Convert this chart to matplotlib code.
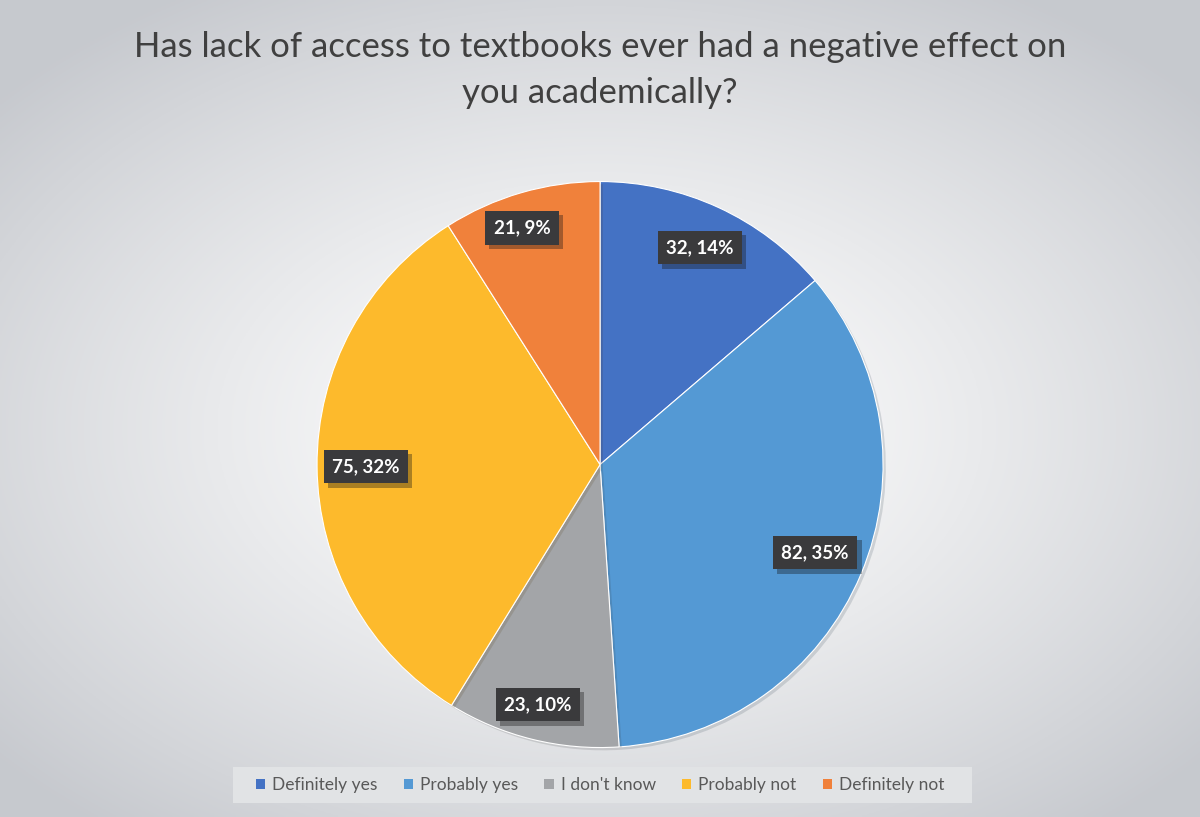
import numpy as np
import matplotlib
matplotlib.use('Agg')
import matplotlib.pyplot as plt
import matplotlib.patheffects as pe
from matplotlib.patches import Rectangle

# data
categories = ['Definitely yes', 'Probably yes', "I don't know", 'Probably not', 'Definitely not']
counts = [32, 82, 23, 75, 21]
percents = [14, 35, 10, 32, 9]
colors = ['#4472C4', '#5499D4', '#A3A5A8', '#FDBA2C', '#F0813B']
title = 'Has lack of access to textbooks ever had a negative effect on\nyou academically?'

# label centres in pie units (Excel "best fit" placement)
label_xy = [(0.353, 0.767), (0.760, -0.311), (-0.219, -0.848), (-0.827, -0.007), (-0.276, 0.837)]

plt.rcParams['font.family'] = ['Lato', 'DejaVu Sans']

fig = plt.figure(figsize=(12, 8.17), dpi=100)

# radial gradient background
bg = fig.add_axes([0, 0, 1, 1])
yy, xx = np.mgrid[-1:1:400j, -1:1:600j]
rr = np.sqrt((xx / 1.05) ** 2 + ((yy + 0.05) / 1.0) ** 2)
rr = np.clip(rr, 0, 1.25) / 1.25
c_in = np.array([1.0, 1.0, 1.0])
c_out = np.array([0.78, 0.79, 0.81])
img = c_in[None, None, :] * (1 - rr[..., None] ** 1.3) + c_out[None, None, :] * rr[..., None] ** 1.3
bg.imshow(img, extent=[0, 1, 0, 1], aspect='auto', origin='lower')
bg.set_xlim(0, 1)
bg.set_ylim(0, 1)
bg.axis('off')

# title
fig.text(0.5, 1 - 70 / 817, title, ha='center', va='center', fontsize=25, color='#404040',
         linespacing=1.55)

# pie
ax = fig.add_axes([0.2642, 0.0850, 0.4717, 0.6928])
wedges, _ = ax.pie(counts, colors=colors, startangle=90, counterclock=False,
                   wedgeprops=dict(edgecolor='white', linewidth=0.8))
for w in wedges:
    w.set_path_effects([pe.SimplePatchShadow(offset=(2, -2), alpha=0.15), pe.Normal()])
ax.set_xlim(-1, 1)
ax.set_ylim(-1, 1)
ax.set_aspect('equal')

for (lx, ly), n, p in zip(label_xy, counts, percents):
    t = ax.text(lx, ly, f'{n}, {p}%', ha='center', va='center', fontsize=13.5,
                fontweight='bold', color='white',
                bbox=dict(boxstyle='square,pad=0.45', facecolor='#3a3a3c', edgecolor='none'))
    t.get_bbox_patch().set_path_effects([pe.SimplePatchShadow(offset=(3, -3), alpha=0.35), pe.Normal()])

# legend box
bg.add_patch(Rectangle((233 / 1200, 1 - 803 / 817), (972 - 233) / 1200, 36 / 817,
                       facecolor='#e1e3e5', edgecolor='none', transform=bg.transAxes))
handles = [Rectangle((0, 0), 1, 1, facecolor=c) for c in colors]
leg = fig.legend(handles, categories, loc='center', bbox_to_anchor=(0.5, 1 - 785 / 817),
                 ncol=5, frameon=False, fontsize=12.5, handlelength=0.55, handleheight=0.55,
                 handletextpad=0.4, columnspacing=1.5, labelcolor='#595959')

fig.savefig('out.png', dpi=100)
